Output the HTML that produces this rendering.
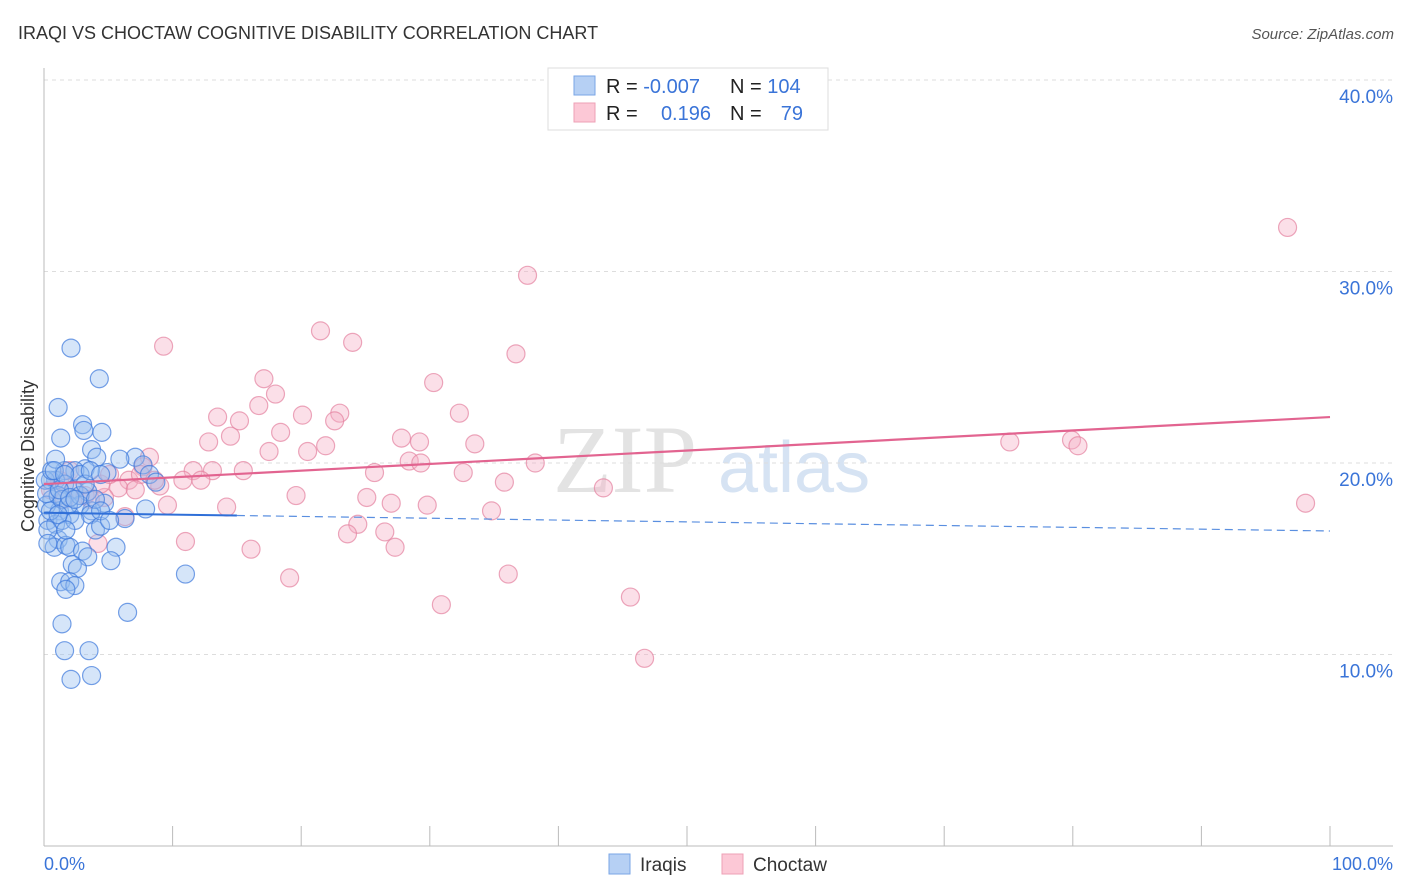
<!DOCTYPE html>
<html><head><meta charset="utf-8"><style>
body{margin:0;background:#fff;width:1406px;height:892px;overflow:hidden;font-family:"Liberation Sans",sans-serif}
svg{position:absolute;left:0;top:0}
</style></head><body>
<svg id="chart" width="1406" height="892">
<text x="18" y="39" font-size="18" fill="#333">IRAQI VS CHOCTAW COGNITIVE DISABILITY CORRELATION CHART</text>
<text x="1394" y="39" font-size="15" fill="#555" font-style="italic" text-anchor="end">Source: ZipAtlas.com</text>
<g>
<text x="553" y="492" font-size="96" font-family="Liberation Serif,serif" fill="#e3e3e3">ZIP</text>
<text x="718" y="492" font-size="72" fill="#d6e3f3">atlas</text>
</g>
<g id="grid"></g>
<line x1="44" y1="68" x2="44" y2="846" stroke="#bbb"/>
<line x1="44" y1="846" x2="1393" y2="846" stroke="#bbb"/>
<text transform="translate(34,456) rotate(-90)" font-size="18" fill="#333" text-anchor="middle">Cognitive Disability</text>
<text x="44" y="870" font-size="18" fill="#3a74d8">0.0%</text>
<text x="1393" y="870" font-size="18" fill="#3a74d8" text-anchor="end">100.0%</text>
<g id="pts"></g>
<g id="trends"></g>
<g>
<rect x="548" y="68" width="280" height="62" fill="#fff" stroke="#ddd"/>
<rect x="574" y="76" width="21" height="19" fill="#b6d0f4" stroke="#7aa6e6"/>
<rect x="574" y="103" width="21" height="19" fill="#fcc8d6" stroke="#eea0b6"/>
<text x="606" y="93" font-size="20" fill="#222">R = <tspan fill="#3a74d8">-0.007</tspan></text>
<text x="730" y="93" font-size="20" fill="#222">N = <tspan fill="#3a74d8">104</tspan></text>
<text x="606" y="120" font-size="20" fill="#222">R = </text>
<text x="711" y="120" font-size="20" fill="#3a74d8" text-anchor="end">0.196</text>
<text x="730" y="120" font-size="20" fill="#222">N = </text>
<text x="803" y="120" font-size="20" fill="#3a74d8" text-anchor="end">79</text>
</g>
<g>
<rect x="609" y="854" width="21" height="20" fill="#b6d0f4" stroke="#7aa6e6"/>
<text x="640" y="871" font-size="19" fill="#333">Iraqis</text>
<rect x="722" y="854" width="21" height="20" fill="#fcc8d6" stroke="#eea0b6"/>
<text x="753" y="871" font-size="19" fill="#333">Choctaw</text>
</g>
</svg>
<script>
const yTicks=[10,20,30,40];
const yTickLabels=["10.0%","20.0%","30.0%","40.0%"];
const xTicks=[0,10,20,30,40,50,60,70,80,90,100];
const blueX=[2.1,4.3,1.1,3.0,1.3,4.5,3.1,3.7,4.1,7.1,7.7,4.9,3.2,2.4,1.6,2.8,0.9,1.6,2.3,3.4,8.2,8.7,4.7,3.7,7.9,6.3,0.6,1.2,2.0,2.8,3.6,0.3,0.9,1.4,2.4,4.0,4.4,1.1,0.8,1.7,2.0,3.0,3.4,5.6,5.2,2.2,2.6,1.3,2.0,2.4,1.7,11.0,6.5,1.4,1.6,3.5,2.1,3.7,0.5,0.1,0.2,0.6,1.1,0.5,0.3,0.9,1.4,1.9,2.8,4.0,4.4,5.1,0.8,0.2,1.2,2.0,3.2,1.6,2.4,0.3,1.1,1.7,3.6,4.4,5.9];
const blueY=[26.0,24.4,22.9,22.0,21.3,21.6,21.7,20.7,20.3,20.3,19.9,19.5,19.7,19.6,19.6,19.4,19.1,18.9,18.6,18.5,19.4,19.0,17.9,17.5,17.6,17.1,18.1,17.5,17.3,17.8,17.3,17.0,16.8,17.0,17.0,16.5,16.7,16.0,15.6,15.7,15.6,15.4,15.1,15.6,14.9,14.7,14.5,13.8,13.8,13.6,13.4,14.2,12.2,11.6,10.2,10.2,8.7,8.9,19.1,19.1,17.8,19.6,18.3,17.5,16.5,20.2,18.1,17.8,18.3,18.1,17.5,17.0,19.6,18.4,18.6,18.2,18.9,19.4,18.1,15.8,17.3,16.5,19.6,19.4,20.2];
const pinkX=[9.3,21.5,24.0,37.6,36.7,96.7,17.1,18.0,30.3,13.5,15.2,14.5,16.7,20.1,23.0,22.6,32.3,12.8,18.4,17.5,21.9,20.5,27.8,29.2,33.5,75.1,79.9,80.4,8.2,7.7,11.6,13.1,15.5,25.7,28.4,29.3,38.2,32.6,35.8,9.0,10.8,12.2,6.6,5.8,4.7,43.5,19.6,25.1,27.0,29.8,34.8,98.1,14.2,9.6,6.3,24.4,23.6,26.5,27.3,16.1,11.0,4.2,19.1,36.1,30.9,45.6,46.7,7.5,8.6,1.2,2.4,3.2,4.4,5.1,1.6,3.6,0.5,7.1,2.0];
const pinkY=[26.1,26.9,26.3,29.8,25.7,32.3,24.4,23.6,24.2,22.4,22.2,21.4,23.0,22.5,22.6,22.2,22.6,21.1,21.6,20.6,20.9,20.6,21.3,21.1,21.0,21.1,21.2,20.9,20.3,19.8,19.6,19.6,19.6,19.5,20.1,20.0,20.0,19.5,19.0,18.8,19.1,19.1,19.1,18.7,18.2,18.7,18.3,18.2,17.9,17.8,17.5,17.9,17.7,17.8,17.2,16.8,16.3,16.4,15.6,15.5,15.9,15.8,14.0,14.2,12.6,13.0,9.8,19.4,19.1,19.1,18.6,18.3,18.9,19.4,18.1,18.1,18.6,18.6,19.6];
const blueTrend=[17.4,16.45];
const pinkTrend=[18.9,22.4];
const blueSolidEnd=15;
const NS="http://www.w3.org/2000/svg";
function sx(v){return 44+v*12.86;}
function sy(v){return 846-v*19.15;}
function mk(tag,attrs,parent){const e=document.createElementNS(NS,tag);for(const k in attrs)e.setAttribute(k,attrs[k]);parent.appendChild(e);return e;}
const grid=document.getElementById('grid');
yTicks.forEach((t,i)=>{
 const l=mk('line',{x1:44,x2:1393,y1:sy(t),y2:sy(t),stroke:'#ddd','stroke-dasharray':'4,4'},grid);
 
 
 const tx=mk('text',{x:1393,y:sy(t)+23,'font-size':19,fill:'#3a74d8','text-anchor':'end'},grid);
 tx.textContent=yTickLabels[i];
 
 
});
xTicks.forEach(t=>{
 const l=mk('line',{x1:sx(t),x2:sx(t),y1:826,y2:846,stroke:'#bbb'},grid);
 
 
});
const pts=document.getElementById('pts');
pinkX.forEach((x,i)=>{
 const c=mk('circle',{cx:sx(x),cy:sy(pinkY[i]),r:9,fill:'rgba(246,176,198,0.4)',stroke:'rgba(228,130,160,0.7)','stroke-width':1.2},pts);
 
 
});
blueX.forEach((x,i)=>{
 const c=mk('circle',{cx:sx(x),cy:sy(blueY[i]),r:9,fill:'rgba(150,190,240,0.4)',stroke:'rgba(60,120,220,0.7)','stroke-width':1.2},pts);
 
 
});
const tr=document.getElementById('trends');
function ty(a,x){return a[0]+(a[1]-a[0])*x/100;}
let l1=mk('line',{x1:sx(0),y1:sy(ty(blueTrend,0)),x2:sx(blueSolidEnd),y2:sy(ty(blueTrend,blueSolidEnd)),stroke:'#2f6fd8','stroke-width':2},tr);


let l2=mk('line',{x1:sx(blueSolidEnd),y1:sy(ty(blueTrend,blueSolidEnd)),x2:sx(100),y2:sy(ty(blueTrend,100)),stroke:'#5a8fe0','stroke-width':1.2,'stroke-dasharray':'8,5'},tr);


let l3=mk('line',{x1:sx(0),y1:sy(ty(pinkTrend,0)),x2:sx(100),y2:sy(ty(pinkTrend,100)),stroke:'#e26490','stroke-width':2.2},tr);


</script>
</body></html>
